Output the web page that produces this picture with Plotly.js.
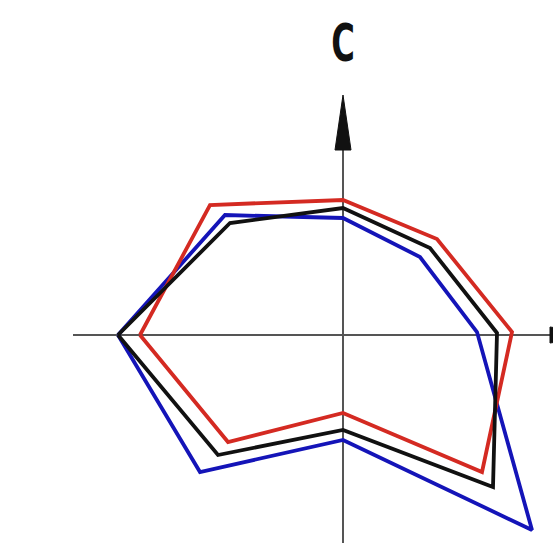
<!DOCTYPE html>
<html>
<head>
<meta charset="utf-8">
<script src="https://cdn.plot.ly/plotly-3.0.1.min.js"></script>
<style>
  html, body { margin: 0; padding: 0; background: #fff; }
  #chart { width: 553px; height: 543px; }
  /* the axis letter in the picture is a narrow drafting-style glyph */
  #chart .annotation-text {
    transform-box: fill-box;
    transform-origin: center;
    transform: scaleX(0.62);
  }
</style>
</head>
<body>
<div id="chart"></div>
<script>
// polygon vertices (origin at the axes crossing)
const redX = [-203, -133, 0, 94, 169, 139, 0, -115, -203];
const redY = [0, 130, 135, 96, 3, -137, -78, -107, 0];

const blackX = [-225, -113, 0, 87, 154, 150, 0, -125, -225];
const blackY = [0, 112, 127, 87, 2, -152, -95, -120, 0];

const blueX = [-225, -118, 0, 77, 134, 189, 0, -143, -225];
const blueY = [0, 120, 117, 78, 3, -195, -105, -137, 0];

const axisLabel = "C";

const poly = (x, y, color) => ({
  x, y,
  type: "scatter",
  mode: "lines",
  line: { color, width: 3.8 },
  hoverinfo: "skip",
  showlegend: false,
});

const axisColor = "#555";

Plotly.newPlot(
  "chart",
  [
    poly(blueX, blueY, "#1414b8"),
    poly(redX, redY, "#d42a22"),
    poly(blackX, blackY, "#111111"),
  ],
  {
    width: 553,
    height: 543,
    margin: { l: 0, r: 0, t: 0, b: 0 },
    paper_bgcolor: "#fff",
    plot_bgcolor: "#fff",
    xaxis: { range: [-343, 210], visible: false, fixedrange: true },
    yaxis: { range: [-208, 335], visible: false, fixedrange: true },
    shapes: [
      { type: "line", x0: -270, x1: 215, y0: 0, y1: 0, layer: "below",
        line: { color: axisColor, width: 2 } },
      { type: "line", x0: 0, x1: 0, y0: -215, y1: 190, layer: "below",
        line: { color: axisColor, width: 2 } },
      { type: "path", path: "M -8 185 L 0 240 L 8 185 Z",
        fillcolor: "#111", line: { color: "#111", width: 1 } },
      { type: "path", path: "M 207 -8 L 262 0 L 207 8 Z",
        fillcolor: "#111", line: { color: "#111", width: 1 } },
    ],
    annotations: [
      {
        x: 0, y: 292, text: axisLabel, showarrow: false,
        xanchor: "center", yanchor: "middle",
        font: { family: "DejaVu Sans, sans-serif", size: 52, weight: "bold", color: "#111" },
      },
    ],
  },
  { staticPlot: true }
);
</script>
</body>
</html>
